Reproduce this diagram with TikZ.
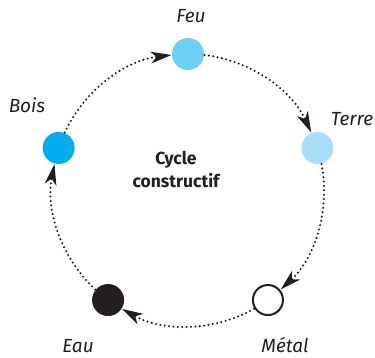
\documentclass[tikz,border=0pt]{standalone}
\usepackage{fontspec}
\setmainfont{Fira Sans}
\usetikzlibrary{arrows.meta,calc}
\definecolor{ink}{HTML}{231F20}
\definecolor{feuc}{HTML}{6DCFF6}
\definecolor{terrec}{HTML}{A8DEF8}
\definecolor{boisc}{HTML}{00AEEF}
\tikzset{
  elem/.style={circle, minimum size=32pt, inner sep=0pt},
  lab/.style={font=\fontsize{19}{21}\selectfont\itshape, text=ink, anchor=base, inner sep=0pt},
  conn/.style={ink, line width=2.3pt, dash pattern=on 0pt off 4.4pt, line cap=round,
    -{Stealth[length=21pt,width=12pt,inset=6pt,line width=0pt]}},
}
\begin{document}
\begin{tikzpicture}[x=1pt,y=1pt]
\useasboundingbox (0,0) rectangle (375,357);
\coordinate (O) at (188,167);
\def\R{136}
\node[elem, fill=feuc] (feu) at ($(O)+(90:\R)$) {};
\node[elem, fill=terrec] (terre) at ($(O)+(18:\R)$) {};
\node[elem, draw=ink, line width=2pt, fill=white, minimum size=30pt] (metal) at ($(O)+(-54:\R)$) {};
\node[elem, fill=ink] (eau) at ($(O)+(-126:\R)$) {};
\node[elem, fill=boisc] (bois) at ($(O)+(162:\R)$) {};

\coordinate (b1) at ($(O)+(155:\R)$);
\coordinate (f1) at ($(O)+(83:\R)$);
\coordinate (t1) at ($(O)+(11:\R)$);
\coordinate (m1) at ($(O)+(-61:\R)$);
\coordinate (e1) at ($(O)+(-133:\R)$);

\draw[conn] (b1) arc[start angle=155, end angle=97, radius=\R];
\draw[conn] (f1) arc[start angle=83, end angle=25, radius=\R];
\draw[conn] (t1) arc[start angle=11, end angle=-47, radius=\R];
\draw[conn] (m1) arc[start angle=-61, end angle=-119, radius=\R];
\draw[conn] (e1) arc[start angle=-133, end angle=-191, radius=\R];

\node[lab] (lfeu) at (191,334) {Feu};
\node[lab] (lterre) at (352,232) {Terre};
\node[lab] (lbois) at (27,245) {Bois};
\node[lab] (leau) at (78,5) {Eau};
\node[lab] (lmetal) at (285,5) {Métal};
\node[font=\fontsize{17.5}{23}\selectfont\bfseries, text=ink, align=center] (title) at (176,187) {Cycle\\constructif};
\end{tikzpicture}
\end{document}
